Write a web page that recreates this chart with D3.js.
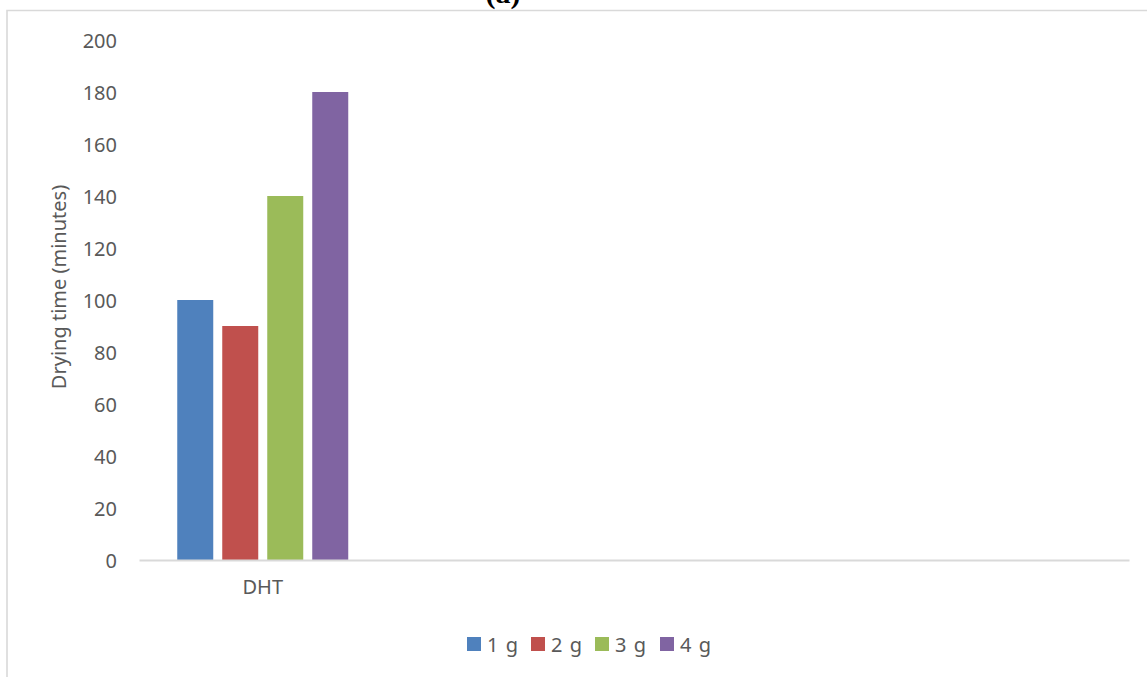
<!DOCTYPE html>
<html>
<head>
<meta charset="utf-8">
<script src="https://cdn.jsdelivr.net/npm/d3@7"></script>
<style>
  html, body { margin: 0; padding: 0; background: #fff; }
  svg { display: block; }
  text { font-family: "Noto Sans", "Open Sans", sans-serif; }
</style>
</head>
<body>
<svg id="chart" width="1147" height="677"></svg>
<script>
// Drying time per sample mass (four category slots, only the first is filled)
const categories = ["DHT", "", "", ""];
const seriesNames = ["1 g", "2 g", "3 g", "4 g"];
const seriesColors = ["#4f81bd", "#c0504d", "#9bbb59", "#8064a2"];
const values1g = [100, null, null, null];
const values2g = [90, null, null, null];
const values3g = [140, null, null, null];
const values4g = [180, null, null, null];
const yTicks = [0, 20, 40, 60, 80, 100, 120, 140, 160, 180, 200];

const seriesValues = [values1g, values2g, values3g, values4g];

const svg = d3.select("#chart");
const W = 1147, H = 677;
const margin = { left: 139, right: 18, top: 40, bottom: 117 };
const plotW = W - margin.left - margin.right;
const plotH = H - margin.top - margin.bottom;

// Outer chart frame
svg.append("path")
  .attr("d", `M7,${H} L7,10.5 L${W},10.5`)
  .attr("fill", "none")
  .attr("stroke", "#d9d9d9")
  .attr("stroke-width", 1.6);

// Title sitting above the frame
svg.append("text")
  .attr("x", 503).attr("y", 3)
  .attr("text-anchor", "middle")
  .style("font-family", "'Liberation Serif', 'Times New Roman', serif")
  .style("font-weight", "bold")
  .style("font-size", "30px")
  .attr("fill", "#000")
  .text("(a)");

const g = svg.append("g").attr("transform", `translate(${margin.left},${margin.top})`);

const x0 = d3.scaleBand().domain(d3.range(categories.length)).range([0, plotW]).paddingInner(0).paddingOuter(0);
const groupWidth = 171;
const x1 = d3.scaleBand().domain(d3.range(seriesNames.length))
  .range([(x0.bandwidth() - groupWidth) / 2, (x0.bandwidth() + groupWidth) / 2])
  .paddingInner(0.2).paddingOuter(0);
const y = d3.scaleLinear().domain([0, 200]).range([plotH, 0]);

// Y axis labels
const yAxis = d3.axisLeft(y).tickValues(yTicks).tickSize(0).tickPadding(22);
const yg = g.append("g").call(yAxis);
yg.select(".domain").remove();
yg.selectAll("text")
  .attr("fill", "#595959")
  .style("font-size", "20px")
  .attr("dy", "0.35em");

// Bars
categories.forEach((cat, ci) => {
  seriesValues.forEach((vals, si) => {
    const v = vals[ci];
    if (v == null) return;
    g.append("rect")
      .attr("x", x0(ci) + x1(si))
      .attr("y", y(v))
      .attr("width", x1.bandwidth())
      .attr("height", y(0) - y(v))
      .attr("fill", seriesColors[si]);
  });
});

// Category axis
const xAxis = d3.axisBottom(x0).tickFormat(i => categories[i]).tickSize(0).tickPadding(20);
const xg = g.append("g").attr("transform", `translate(0,${plotH})`).call(xAxis);
xg.select(".domain").attr("stroke", "#d9d9d9").attr("stroke-width", 2);
xg.selectAll("text")
  .attr("fill", "#595959")
  .style("font-size", "20px");

// Y axis title
svg.append("text")
  .attr("transform", `translate(66,287) rotate(-90)`)
  .attr("text-anchor", "middle")
  .attr("fill", "#595959")
  .style("font-size", "20px")
  .text("Drying time (minutes)");

// Legend
const legendX = [467, 531, 595, 660];
const legend = svg.append("g");
seriesNames.forEach((name, i) => {
  const lg = legend.append("g").attr("transform", `translate(${legendX[i]},637)`);
  lg.append("rect").attr("width", 14).attr("height", 14).attr("fill", seriesColors[i]);
  lg.append("text").attr("x", 20).attr("y", 15)
    .attr("fill", "#595959")
    .style("font-size", "20px")
    .style("letter-spacing", "1px")
    .text(name);
});
</script>
</body>
</html>
